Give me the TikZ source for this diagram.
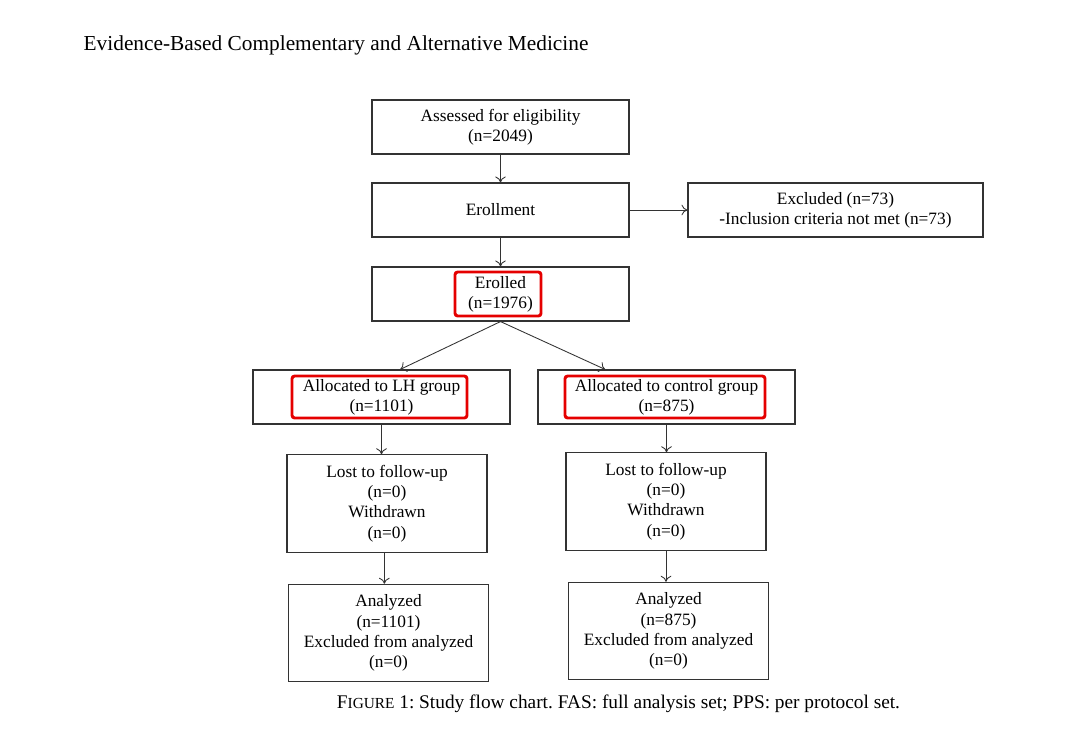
\documentclass[tikz,border=0pt]{standalone}
\usepackage{fontspec}
\setmainfont{Liberation Serif}
\usetikzlibrary{arrows.meta}
\frenchspacing

\begin{document}
\begin{tikzpicture}[x=0.75pt,y=-0.75pt,
	box/.style={draw=black!80,line width=0.85pt,minimum width=192.75pt,minimum height=40.5pt,inner sep=0pt,align=center,font=\fontsize{13}{15.2}\selectfont},
	tallbox/.style={box,minimum width=150pt,minimum height=73pt},
	hilite/.style={draw=red!90!black,line width=2.2pt,rounded corners=2pt,inner sep=0pt},
	arr/.style={-{To[length=4.5pt,width=8pt]},black!80,line width=0.65pt}]
	\useasboundingbox (0,0) rectangle (1080,739);
	\node[anchor=west,font=\fontsize{16}{18}\selectfont] (journal) at (79,45) {Evidence-Based Complementary and Alternative Medicine};
	% main column
	\node[box] (assess) at (500.5,127) {Assessed for eligibility\\(n=2049)};
	\node[box] (enroll) at (500.5,210) {Erollment};
	\node[box,minimum width=221.25pt] (excl) at (835.5,210) {Excluded (n=73)\\-Inclusion criteria not met (n=73)};
	\node[box] (erolled) at (500.5,294) {Erolled\\(n=1976)};
	% two arms
	\node[box] (lh) at (381.5,397) {Allocated to LH group\\(n=1101)};
	\node[box] (ctrl) at (666.5,397) {Allocated to control group\\(n=875)};
	\node[tallbox] (lostl) at (387,503.5) {Lost to follow-up\\(n=0)\\Withdrawn\\(n=0)};
	\node[tallbox] (lostr) at (666,501.5) {Lost to follow-up\\(n=0)\\Withdrawn\\(n=0)};
	\node[tallbox] (anall) at (388.5,633) {Analyzed\\(n=1101)\\Excluded from analyzed\\(n=0)};
	\node[tallbox] (analr) at (668.5,631) {Analyzed\\(n=875)\\Excluded from analyzed\\(n=0)};
	% red marks
	\node[hilite,minimum width=64.5pt,minimum height=33pt] (markerolled) at (498,294) {};
	\node[hilite,minimum width=131.25pt,minimum height=31.5pt] (marklh) at (379.5,397) {};
	\node[hilite,minimum width=150pt,minimum height=31.5pt] (markctrl) at (665,397) {};
	% connectors
	\draw[arr] (assess) -- (enroll);
	\draw[arr] (enroll) -- (excl);
	\draw[arr] (enroll) -- (erolled);
	\draw[arr] (erolled.south) -- ([xshift=14pt]lh.north);
	\draw[arr] (erolled.south) -- ([xshift=-46pt]ctrl.north);
	\draw[arr] (lh.south) -- (lh.south |- lostl.north);
	\draw[arr] (ctrl.south) -- (ctrl.south |- lostr.north);
	\draw[arr] ([xshift=-2pt]lostl.south) -- ([xshift=-2pt]lostl.south |- anall.north);
	\draw[arr] (lostr.south) -- (lostr.south |- analr.north);
	\node[font=\fontsize{14.5}{16}\selectfont] (caption) at (618.5,704) {F{\fontsize{11.5}{16}\selectfont IGURE} 1: Study flow chart. FAS: full analysis set; PPS: per protocol set.};
\end{tikzpicture}
\end{document}
